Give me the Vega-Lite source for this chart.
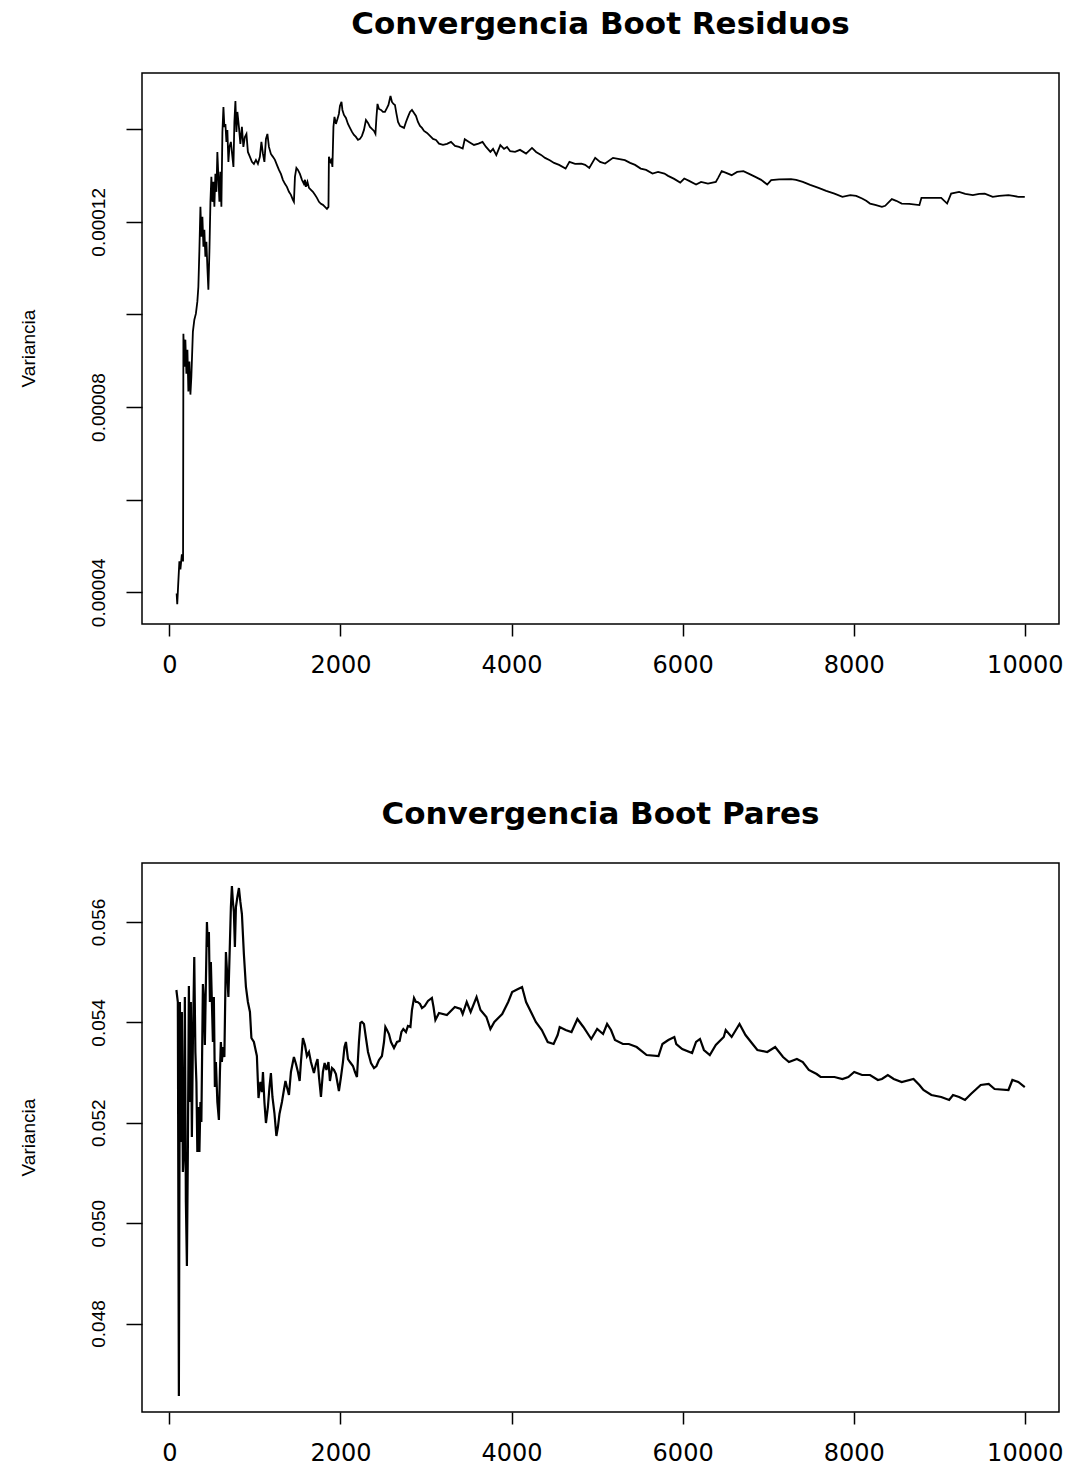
{
"$schema": "https://vega.github.io/schema/vega-lite/v6.json",
"background": "white",
"padding": {"left": 18, "top": 8, "right": 5, "bottom": 5},
"spacing": 239,
"bounds": "flush",
"config": {
  "view": {"stroke": "black", "strokeWidth": 1.5},
  "axis": {"grid": false, "domain": false, "tickColor": "black", "tickWidth": 1.5, "labelColor": "black", "titleColor": "black"}
},
"datasets": {
"res": [{"n":85,"v":3.978e-5},{"n":92,"v":3.741e-5},{"n":102,"v":4.129e-5},{"n":117,"v":4.668e-5},{"n":129,"v":4.496e-5},{"n":146,"v":4.819e-5},{"n":160,"v":4.668e-5},{"n":164,"v":9.585e-5},{"n":175,"v":8.874e-5},{"n":187,"v":9.456e-5},{"n":199,"v":8.723e-5},{"n":211,"v":9.240e-5},{"n":222,"v":8.335e-5},{"n":234,"v":8.982e-5},{"n":246,"v":8.270e-5},{"n":257,"v":8.658e-5},{"n":275,"v":9.629e-5},{"n":292,"v":9.887e-5},{"n":310,"v":1.0017e-4},{"n":327,"v":1.0276e-4},{"n":339,"v":1.0599e-4},{"n":351,"v":1.1397e-4},{"n":363,"v":1.2324e-4},{"n":374,"v":1.1677e-4},{"n":386,"v":1.2109e-4},{"n":398,"v":1.1462e-4},{"n":409,"v":1.1828e-4},{"n":421,"v":1.1246e-4},{"n":433,"v":1.1570e-4},{"n":444,"v":1.1030e-4},{"n":456,"v":1.0534e-4},{"n":468,"v":1.1354e-4},{"n":480,"v":1.2432e-4},{"n":491,"v":1.2971e-4},{"n":503,"v":1.2432e-4},{"n":515,"v":1.2863e-4},{"n":526,"v":1.2324e-4},{"n":538,"v":1.3036e-4},{"n":550,"v":1.2648e-4},{"n":561,"v":1.3510e-4},{"n":573,"v":1.2971e-4},{"n":585,"v":1.2432e-4},{"n":596,"v":1.3079e-4},{"n":608,"v":1.2324e-4},{"n":620,"v":1.3942e-4},{"n":632,"v":1.4481e-4},{"n":643,"v":1.4050e-4},{"n":655,"v":1.4114e-4},{"n":667,"v":1.3726e-4},{"n":678,"v":1.3985e-4},{"n":690,"v":1.3295e-4},{"n":702,"v":1.3618e-4},{"n":719,"v":1.3726e-4},{"n":731,"v":1.3510e-4},{"n":749,"v":1.3187e-4},{"n":760,"v":1.4157e-4},{"n":772,"v":1.4610e-4},{"n":784,"v":1.3942e-4},{"n":795,"v":1.4373e-4},{"n":813,"v":1.4050e-4},{"n":830,"v":1.3683e-4},{"n":848,"v":1.4050e-4},{"n":865,"v":1.3618e-4},{"n":883,"v":1.3834e-4},{"n":901,"v":1.3899e-4},{"n":918,"v":1.3510e-4},{"n":942,"v":1.3403e-4},{"n":965,"v":1.3295e-4},{"n":988,"v":1.3252e-4},{"n":1012,"v":1.3338e-4},{"n":1035,"v":1.3252e-4},{"n":1058,"v":1.3403e-4},{"n":1076,"v":1.3726e-4},{"n":1094,"v":1.3467e-4},{"n":1111,"v":1.3295e-4},{"n":1129,"v":1.3791e-4},{"n":1146,"v":1.3899e-4},{"n":1164,"v":1.3618e-4},{"n":1187,"v":1.3467e-4},{"n":1211,"v":1.3403e-4},{"n":1234,"v":1.3338e-4},{"n":1257,"v":1.3230e-4},{"n":1281,"v":1.3122e-4},{"n":1304,"v":1.3036e-4},{"n":1327,"v":1.2907e-4},{"n":1351,"v":1.2820e-4},{"n":1374,"v":1.2756e-4},{"n":1398,"v":1.2648e-4},{"n":1421,"v":1.2583e-4},{"n":1444,"v":1.2475e-4},{"n":1456,"v":1.2432e-4},{"n":1468,"v":1.2971e-4},{"n":1485,"v":1.3165e-4},{"n":1503,"v":1.3122e-4},{"n":1526,"v":1.3036e-4},{"n":1550,"v":1.2907e-4},{"n":1573,"v":1.2820e-4},{"n":1585,"v":1.2907e-4},{"n":1596,"v":1.2756e-4},{"n":1614,"v":1.2863e-4},{"n":1632,"v":1.2734e-4},{"n":1655,"v":1.2691e-4},{"n":1678,"v":1.2648e-4},{"n":1702,"v":1.2583e-4},{"n":1725,"v":1.2518e-4},{"n":1749,"v":1.2432e-4},{"n":1772,"v":1.2389e-4},{"n":1795,"v":1.2367e-4},{"n":1819,"v":1.2324e-4},{"n":1842,"v":1.2281e-4},{"n":1860,"v":1.2324e-4},{"n":1865,"v":1.3403e-4},{"n":1883,"v":1.3295e-4},{"n":1895,"v":1.3338e-4},{"n":1906,"v":1.3187e-4},{"n":1918,"v":1.4050e-4},{"n":1930,"v":1.4265e-4},{"n":1947,"v":1.4114e-4},{"n":1965,"v":1.4222e-4},{"n":1982,"v":1.4330e-4},{"n":1994,"v":1.4502e-4},{"n":2012,"v":1.4589e-4},{"n":2023,"v":1.4416e-4},{"n":2041,"v":1.4308e-4},{"n":2064,"v":1.4244e-4},{"n":2088,"v":1.4114e-4},{"n":2111,"v":1.4028e-4},{"n":2135,"v":1.3942e-4},{"n":2158,"v":1.3877e-4},{"n":2181,"v":1.3834e-4},{"n":2205,"v":1.3769e-4},{"n":2228,"v":1.3791e-4},{"n":2251,"v":1.3856e-4},{"n":2275,"v":1.3985e-4},{"n":2298,"v":1.4201e-4},{"n":2322,"v":1.4136e-4},{"n":2345,"v":1.4050e-4},{"n":2368,"v":1.4006e-4},{"n":2392,"v":1.3963e-4},{"n":2409,"v":1.3899e-4},{"n":2421,"v":1.4265e-4},{"n":2433,"v":1.4546e-4},{"n":2450,"v":1.4438e-4},{"n":2474,"v":1.4416e-4},{"n":2497,"v":1.4373e-4},{"n":2520,"v":1.4373e-4},{"n":2544,"v":1.4459e-4},{"n":2561,"v":1.4524e-4},{"n":2585,"v":1.4718e-4},{"n":2602,"v":1.4589e-4},{"n":2620,"v":1.4546e-4},{"n":2637,"v":1.4524e-4},{"n":2655,"v":1.4330e-4},{"n":2673,"v":1.4157e-4},{"n":2696,"v":1.4071e-4},{"n":2719,"v":1.4050e-4},{"n":2743,"v":1.4028e-4},{"n":2766,"v":1.4157e-4},{"n":2789,"v":1.4265e-4},{"n":2813,"v":1.4373e-4},{"n":2836,"v":1.4416e-4},{"n":2860,"v":1.4352e-4},{"n":2883,"v":1.4287e-4},{"n":2906,"v":1.4157e-4},{"n":2930,"v":1.4071e-4},{"n":2953,"v":1.4028e-4},{"n":2977,"v":1.3963e-4},{"n":3012,"v":1.3920e-4},{"n":3047,"v":1.3856e-4},{"n":3082,"v":1.3791e-4},{"n":3117,"v":1.3769e-4},{"n":3152,"v":1.3689e-4},{"n":3199,"v":1.3661e-4},{"n":3246,"v":1.3683e-4},{"n":3292,"v":1.3726e-4},{"n":3339,"v":1.3640e-4},{"n":3386,"v":1.3618e-4},{"n":3429,"v":1.3582e-4},{"n":3453,"v":1.3784e-4},{"n":3503,"v":1.3726e-4},{"n":3561,"v":1.3661e-4},{"n":3614,"v":1.3689e-4},{"n":3661,"v":1.3726e-4},{"n":3702,"v":1.3618e-4},{"n":3753,"v":1.3510e-4},{"n":3784,"v":1.3575e-4},{"n":3822,"v":1.3439e-4},{"n":3869,"v":1.3655e-4},{"n":3912,"v":1.3575e-4},{"n":3947,"v":1.3618e-4},{"n":3984,"v":1.3526e-4},{"n":4041,"v":1.3510e-4},{"n":4099,"v":1.3554e-4},{"n":4170,"v":1.3474e-4},{"n":4239,"v":1.3597e-4},{"n":4287,"v":1.3510e-4},{"n":4345,"v":1.3446e-4},{"n":4392,"v":1.3381e-4},{"n":4447,"v":1.3331e-4},{"n":4497,"v":1.3273e-4},{"n":4556,"v":1.3230e-4},{"n":4632,"v":1.3150e-4},{"n":4677,"v":1.3295e-4},{"n":4743,"v":1.3252e-4},{"n":4816,"v":1.3258e-4},{"n":4860,"v":1.3230e-4},{"n":4909,"v":1.3165e-4},{"n":4978,"v":1.3381e-4},{"n":5035,"v":1.3295e-4},{"n":5094,"v":1.3258e-4},{"n":5186,"v":1.3381e-4},{"n":5246,"v":1.3359e-4},{"n":5325,"v":1.3331e-4},{"n":5386,"v":1.3273e-4},{"n":5444,"v":1.3230e-4},{"n":5510,"v":1.3150e-4},{"n":5573,"v":1.3122e-4},{"n":5648,"v":1.3042e-4},{"n":5713,"v":1.3079e-4},{"n":5787,"v":1.3042e-4},{"n":5830,"v":1.2993e-4},{"n":5901,"v":1.2928e-4},{"n":5972,"v":1.2848e-4},{"n":6019,"v":1.2935e-4},{"n":6076,"v":1.2885e-4},{"n":6157,"v":1.2805e-4},{"n":6216,"v":1.2863e-4},{"n":6296,"v":1.2827e-4},{"n":6388,"v":1.2863e-4},{"n":6415,"v":1.2950e-4},{"n":6457,"v":1.3094e-4},{"n":6509,"v":1.3058e-4},{"n":6573,"v":1.3008e-4},{"n":6637,"v":1.3079e-4},{"n":6711,"v":1.3094e-4},{"n":6778,"v":1.3036e-4},{"n":6850,"v":1.2971e-4},{"n":6918,"v":1.2907e-4},{"n":6989,"v":1.2805e-4},{"n":7035,"v":1.2900e-4},{"n":7129,"v":1.2917e-4},{"n":7267,"v":1.2922e-4},{"n":7327,"v":1.2907e-4},{"n":7405,"v":1.2863e-4},{"n":7491,"v":1.2799e-4},{"n":7589,"v":1.2734e-4},{"n":7678,"v":1.2669e-4},{"n":7775,"v":1.2611e-4},{"n":7868,"v":1.2540e-4},{"n":7960,"v":1.2577e-4},{"n":8029,"v":1.2562e-4},{"n":8098,"v":1.2503e-4},{"n":8146,"v":1.2454e-4},{"n":8191,"v":1.2395e-4},{"n":8251,"v":1.2367e-4},{"n":8330,"v":1.2324e-4},{"n":8368,"v":1.2346e-4},{"n":8446,"v":1.2490e-4},{"n":8497,"v":1.2454e-4},{"n":8561,"v":1.2395e-4},{"n":8649,"v":1.2389e-4},{"n":8768,"v":1.2361e-4},{"n":8792,"v":1.2518e-4},{"n":8906,"v":1.2518e-4},{"n":9023,"v":1.2518e-4},{"n":9092,"v":1.2395e-4},{"n":9139,"v":1.2611e-4},{"n":9232,"v":1.2648e-4},{"n":9304,"v":1.2605e-4},{"n":9393,"v":1.2577e-4},{"n":9468,"v":1.2605e-4},{"n":9532,"v":1.2611e-4},{"n":9625,"v":1.2540e-4},{"n":9702,"v":1.2562e-4},{"n":9809,"v":1.2577e-4},{"n":9865,"v":1.2562e-4},{"n":9924,"v":1.2540e-4},{"n":10000,"v":1.2540e-4}],
"par": [{"n":82,"v":0.054645},{"n":99,"v":0.054406},{"n":111,"v":0.046556},{"n":123,"v":0.054406},{"n":135,"v":0.051616},{"n":146,"v":0.054207},{"n":158,"v":0.051019},{"n":170,"v":0.051417},{"n":181,"v":0.054506},{"n":193,"v":0.050421},{"n":205,"v":0.049146},{"n":216,"v":0.051417},{"n":228,"v":0.054725},{"n":240,"v":0.052413},{"n":251,"v":0.054406},{"n":263,"v":0.051716},{"n":275,"v":0.053609},{"n":291,"v":0.055303},{"n":304,"v":0.053410},{"n":316,"v":0.052812},{"n":327,"v":0.051417},{"n":339,"v":0.052314},{"n":351,"v":0.051417},{"n":363,"v":0.052413},{"n":374,"v":0.052015},{"n":392,"v":0.054765},{"n":404,"v":0.054406},{"n":415,"v":0.053549},{"n":427,"v":0.054804},{"n":439,"v":0.056000},{"n":450,"v":0.055502},{"n":462,"v":0.055801},{"n":474,"v":0.054406},{"n":485,"v":0.055203},{"n":497,"v":0.054406},{"n":509,"v":0.053609},{"n":520,"v":0.054506},{"n":532,"v":0.052712},{"n":544,"v":0.053210},{"n":561,"v":0.052413},{"n":579,"v":0.052055},{"n":591,"v":0.053011},{"n":602,"v":0.053609},{"n":614,"v":0.053210},{"n":626,"v":0.053509},{"n":643,"v":0.053310},{"n":661,"v":0.055402},{"n":678,"v":0.054904},{"n":690,"v":0.054506},{"n":708,"v":0.055602},{"n":719,"v":0.056299},{"n":731,"v":0.056717},{"n":743,"v":0.056399},{"n":754,"v":0.056199},{"n":766,"v":0.055502},{"n":778,"v":0.056299},{"n":795,"v":0.056498},{"n":813,"v":0.056677},{"n":830,"v":0.056399},{"n":848,"v":0.056159},{"n":871,"v":0.055362},{"n":895,"v":0.054705},{"n":918,"v":0.054406},{"n":942,"v":0.054207},{"n":959,"v":0.053689},{"n":988,"v":0.053609},{"n":1023,"v":0.053330},{"n":1042,"v":0.052493},{"n":1064,"v":0.052812},{"n":1082,"v":0.052613},{"n":1094,"v":0.053011},{"n":1111,"v":0.052413},{"n":1129,"v":0.051995},{"n":1152,"v":0.052314},{"n":1170,"v":0.052712},{"n":1187,"v":0.052991},{"n":1205,"v":0.052513},{"n":1228,"v":0.052194},{"n":1251,"v":0.051736},{"n":1269,"v":0.051915},{"n":1287,"v":0.052174},{"n":1316,"v":0.052413},{"n":1339,"v":0.052653},{"n":1357,"v":0.052832},{"n":1374,"v":0.052712},{"n":1398,"v":0.052553},{"n":1421,"v":0.053011},{"n":1444,"v":0.053210},{"n":1456,"v":0.053310},{"n":1480,"v":0.053171},{"n":1503,"v":0.053011},{"n":1523,"v":0.052832},{"n":1538,"v":0.053210},{"n":1561,"v":0.053689},{"n":1585,"v":0.053549},{"n":1608,"v":0.053330},{"n":1632,"v":0.053410},{"n":1655,"v":0.053210},{"n":1690,"v":0.052991},{"n":1713,"v":0.053171},{"n":1732,"v":0.053270},{"n":1749,"v":0.052912},{"n":1772,"v":0.052513},{"n":1795,"v":0.053011},{"n":1815,"v":0.053191},{"n":1836,"v":0.053051},{"n":1860,"v":0.053210},{"n":1877,"v":0.052832},{"n":1901,"v":0.053091},{"n":1924,"v":0.053051},{"n":1947,"v":0.052971},{"n":1982,"v":0.052633},{"n":2006,"v":0.052912},{"n":2029,"v":0.053210},{"n":2047,"v":0.053509},{"n":2064,"v":0.053609},{"n":2088,"v":0.053270},{"n":2111,"v":0.053210},{"n":2146,"v":0.053131},{"n":2170,"v":0.053011},{"n":2193,"v":0.052912},{"n":2216,"v":0.053609},{"n":2233,"v":0.053988},{"n":2251,"v":0.054008},{"n":2275,"v":0.053968},{"n":2298,"v":0.053689},{"n":2322,"v":0.053410},{"n":2357,"v":0.053191},{"n":2392,"v":0.053091},{"n":2421,"v":0.053131},{"n":2450,"v":0.053250},{"n":2485,"v":0.053330},{"n":2509,"v":0.053609},{"n":2525,"v":0.053908},{"n":2544,"v":0.053848},{"n":2567,"v":0.053768},{"n":2591,"v":0.053609},{"n":2626,"v":0.053489},{"n":2661,"v":0.053609},{"n":2692,"v":0.053629},{"n":2713,"v":0.053808},{"n":2735,"v":0.053868},{"n":2766,"v":0.053808},{"n":2789,"v":0.053928},{"n":2818,"v":0.053908},{"n":2836,"v":0.054247},{"n":2860,"v":0.054486},{"n":2883,"v":0.054406},{"n":2902,"v":0.054406},{"n":2930,"v":0.054366},{"n":2953,"v":0.054286},{"n":2985,"v":0.054326},{"n":3023,"v":0.054426},{"n":3069,"v":0.054486},{"n":3088,"v":0.054306},{"n":3110,"v":0.054047},{"n":3152,"v":0.054187},{"n":3244,"v":0.054147},{"n":3337,"v":0.054306},{"n":3406,"v":0.054267},{"n":3429,"v":0.054167},{"n":3476,"v":0.054406},{"n":3522,"v":0.054207},{"n":3591,"v":0.054506},{"n":3637,"v":0.054247},{"n":3706,"v":0.054107},{"n":3753,"v":0.053868},{"n":3799,"v":0.054008},{"n":3891,"v":0.054167},{"n":3961,"v":0.054406},{"n":4007,"v":0.054605},{"n":4076,"v":0.054665},{"n":4123,"v":0.054705},{"n":4170,"v":0.054406},{"n":4239,"v":0.054167},{"n":4284,"v":0.054008},{"n":4354,"v":0.053848},{"n":4423,"v":0.053609},{"n":4492,"v":0.053569},{"n":4539,"v":0.053748},{"n":4563,"v":0.053908},{"n":4632,"v":0.053848},{"n":4701,"v":0.053808},{"n":4770,"v":0.054067},{"n":4840,"v":0.053908},{"n":4932,"v":0.053669},{"n":5001,"v":0.053868},{"n":5070,"v":0.053768},{"n":5117,"v":0.053968},{"n":5163,"v":0.053848},{"n":5209,"v":0.053649},{"n":5302,"v":0.053569},{"n":5371,"v":0.053569},{"n":5463,"v":0.053509},{"n":5579,"v":0.053350},{"n":5718,"v":0.053330},{"n":5764,"v":0.053569},{"n":5833,"v":0.053649},{"n":5903,"v":0.053709},{"n":5926,"v":0.053569},{"n":5995,"v":0.053470},{"n":6111,"v":0.053390},{"n":6157,"v":0.053609},{"n":6203,"v":0.053669},{"n":6249,"v":0.053450},{"n":6318,"v":0.053350},{"n":6388,"v":0.053549},{"n":6481,"v":0.053709},{"n":6504,"v":0.053848},{"n":6573,"v":0.053709},{"n":6665,"v":0.053968},{"n":6735,"v":0.053748},{"n":6827,"v":0.053549},{"n":6874,"v":0.053450},{"n":6989,"v":0.053410},{"n":7082,"v":0.053509},{"n":7174,"v":0.053310},{"n":7243,"v":0.053210},{"n":7336,"v":0.053270},{"n":7405,"v":0.053210},{"n":7475,"v":0.053051},{"n":7567,"v":0.052971},{"n":7613,"v":0.052912},{"n":7705,"v":0.052912},{"n":7775,"v":0.052912},{"n":7868,"v":0.052872},{"n":7937,"v":0.052912},{"n":8006,"v":0.053011},{"n":8098,"v":0.052951},{"n":8191,"v":0.052951},{"n":8283,"v":0.052852},{"n":8330,"v":0.052872},{"n":8399,"v":0.052951},{"n":8468,"v":0.052872},{"n":8561,"v":0.052812},{"n":8699,"v":0.052872},{"n":8768,"v":0.052752},{"n":8815,"v":0.052653},{"n":8908,"v":0.052553},{"n":9023,"v":0.052513},{"n":9116,"v":0.052453},{"n":9161,"v":0.052553},{"n":9232,"v":0.052513},{"n":9301,"v":0.052453},{"n":9370,"v":0.052573},{"n":9485,"v":0.052752},{"n":9578,"v":0.052772},{"n":9647,"v":0.052673},{"n":9809,"v":0.052653},{"n":9855,"v":0.052852},{"n":9924,"v":0.052812},{"n":10000,"v":0.052712}]
},
"vconcat": [
  {
    "title": {"text": "Convergencia Boot Residuos", "font": "DejaVu Sans", "fontSize": 31, "fontWeight": "bold", "color": "black", "baseline": "alphabetic", "offset": 8, "anchor": "middle"},
    "width": 917, "height": 551,
    "data": {"name": "res"},
    "mark": {"type": "line", "color": "black", "strokeWidth": 1.8},
    "encoding": {
      "x": {"field": "n", "type": "quantitative", "scale": {"domain": [-320, 10400], "nice": false, "zero": false},
            "axis": {"values": [0,2000,4000,6000,8000,10000], "format": "d", "title": null, "tickSize": 12, "labelFont": "DejaVu Sans", "labelFontSize": 24, "labelBaseline": "alphabetic", "labelPadding": 36, "labelFlush": false, "labelOverlap": false}},
      "y": {"field": "v", "type": "quantitative", "scale": {"domain": [0.00003316, 0.00015214], "nice": false, "zero": false},
            "axis": {"values": [0.00004, 0.00006, 0.00008, 0.0001, 0.00012, 0.00014], "format": ".5f",
                     "labelExpr": "datum.label == '0.00004' || datum.label == '0.00008' || datum.label == '0.00012' ? datum.label : ''",
                     "title": "Variancia", "tickSize": 16, "labelAngle": -90, "labelAlign": "center", "labelBaseline": "alphabetic", "labelPadding": 22,
                     "labelFont": "Liberation Sans", "labelFontSize": 19, "labelOverlap": false, "labelFlush": false,
                     "titleFont": "Liberation Sans", "titleFontSize": 19, "titleFontWeight": "normal",
                     "titleX": -108, "titleY": 275, "titleAngle": -90, "titleAlign": "center", "titleBaseline": "alphabetic"}}
    }
  },
  {
    "title": {"text": "Convergencia Boot Pares", "font": "DejaVu Sans", "fontSize": 31, "fontWeight": "bold", "color": "black", "baseline": "alphabetic", "offset": 8, "anchor": "middle"},
    "width": 917, "height": 549,
    "data": {"name": "par"},
    "mark": {"type": "line", "color": "black", "strokeWidth": 2.2},
    "encoding": {
      "x": {"field": "n", "type": "quantitative", "scale": {"domain": [-320, 10400], "nice": false, "zero": false},
            "axis": {"values": [0,2000,4000,6000,8000,10000], "format": "d", "title": null, "tickSize": 12, "labelFont": "DejaVu Sans", "labelFontSize": 24, "labelBaseline": "alphabetic", "labelPadding": 36, "labelFlush": false, "labelOverlap": false}},
      "y": {"field": "v", "type": "quantitative", "scale": {"domain": [0.0462367, 0.0571756], "nice": false, "zero": false},
            "axis": {"values": [0.048, 0.05, 0.052, 0.054, 0.056], "format": ".3f",
                     "title": "Variancia", "tickSize": 16, "labelAngle": -90, "labelAlign": "center", "labelBaseline": "alphabetic", "labelPadding": 22,
                     "labelFont": "Liberation Sans", "labelFontSize": 19, "labelOverlap": false, "labelFlush": false,
                     "titleFont": "Liberation Sans", "titleFontSize": 19, "titleFontWeight": "normal",
                     "titleX": -108, "titleY": 274, "titleAngle": -90, "titleAlign": "center", "titleBaseline": "alphabetic"}}
    }
  }
]
}
